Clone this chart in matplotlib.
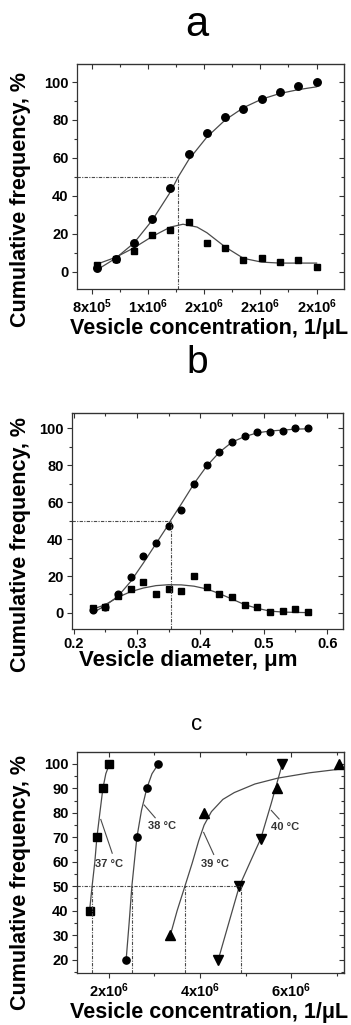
import matplotlib
matplotlib.use("Agg")
import matplotlib.pyplot as plt
from matplotlib.ticker import FixedLocator

plt.rcParams['font.family'] = ['Liberation Sans', 'DejaVu Sans']
plt.rcParams['mathtext.fontset'] = 'custom'
plt.rcParams['mathtext.rm'] = 'Liberation Sans:bold'
plt.rcParams['mathtext.default'] = 'rm'

LINE = '#4a4a4a'

# ---- panel a : concentration distribution ----
a_x = [0.84e6, 0.97e6, 1.10e6, 1.23e6, 1.36e6, 1.49e6, 1.62e6, 1.75e6,
       1.88e6, 2.01e6, 2.14e6, 2.27e6, 2.40e6]
a_cum = [2, 6.7, 15, 28, 44, 62, 73, 81.5, 86, 91, 94.5, 98, 100]
a_freq = [3.5, 6.5, 11, 19.5, 22, 26, 15, 12.5, 6, 7, 5, 6, 2.5]
a_cum_fit_x = [0.84e6, 0.97e6, 1.10e6, 1.23e6, 1.36e6, 1.416e6, 1.49e6, 1.62e6,
               1.75e6, 1.88e6, 2.01e6, 2.14e6, 2.27e6, 2.40e6]
a_cum_fit_y = [1, 7, 15, 27, 42, 50, 59, 71, 80, 86.5, 91, 94, 96, 97.5]
a_gau_fit_x = [0.84e6, 0.97e6, 1.10e6, 1.23e6, 1.36e6, 1.45e6, 1.55e6, 1.62e6,
               1.75e6, 1.88e6, 2.01e6, 2.14e6, 2.27e6, 2.40e6]
a_gau_fit_y = [4, 7.5, 12.5, 18.5, 23.5, 25, 23.5, 20.5, 13, 7, 5, 4.5, 4.5, 4.5]
a_half = 1.416e6
a_ticks = [0.8e6, 1.2e6, 1.6e6, 2.0e6, 2.4e6]
a_ticklabels = ['8x10$^5$', '1x10$^6$', '2x10$^6$', '2x10$^6$', '2x10$^6$']

# ---- panel b : diameter distribution ----
b_x = [0.23, 0.25, 0.27, 0.29, 0.31, 0.33, 0.35, 0.37, 0.39, 0.41, 0.43,
       0.45, 0.47, 0.49, 0.51, 0.53, 0.55, 0.57]
b_cum = [1.5, 3, 10, 19.5, 31, 38, 47, 56, 70, 80, 87, 92.5, 96, 98, 98,
         98.5, 100, 100]
b_freq = [2.5, 3.5, 9, 13, 16.5, 10.5, 13, 12, 20, 14, 10.5, 8.5, 4.5, 3,
          0.5, 1, 2, 0.5]
b_cum_fit_x = [0.23, 0.25, 0.27, 0.29, 0.31, 0.33, 0.35, 0.353, 0.37, 0.39,
               0.41, 0.43, 0.45, 0.47, 0.49, 0.51, 0.53, 0.55, 0.57]
b_cum_fit_y = [0, 4, 9, 17, 27, 37.5, 48, 50, 59, 70, 79.5, 87, 92.5, 95.5,
               97.5, 98.5, 99, 99.5, 99.7]
b_gau_fit_x = [0.23, 0.25, 0.27, 0.29, 0.31, 0.33, 0.35, 0.37, 0.39, 0.41,
               0.43, 0.45, 0.47, 0.49, 0.51, 0.53, 0.55, 0.57]
b_gau_fit_y = [2, 4.5, 8.5, 11.5, 13.5, 14.8, 15.3, 15.2, 14.5, 13, 10.5, 7.5,
               4.5, 2.5, 1, 0.5, 0.3, 0.2]
b_half = 0.353

# ---- panel c : temperature series ----
c37_x = [1.585e6, 1.745e6, 1.876e6, 2.02e6]
c37_y = [40, 70, 90, 100]
c37_fit_x = [1.585e6, 1.64e6, 1.70e6, 1.745e6, 1.81e6, 1.876e6, 1.94e6, 2.02e6]
c37_fit_y = [40, 50, 60, 70, 80, 90, 96, 100]
c38_x = [2.385e6, 2.62e6, 2.836e6, 3.09e6]
c38_y = [20, 70, 90, 100]
c38_fit_x = [2.385e6, 2.45e6, 2.51e6, 2.57e6, 2.62e6, 2.72e6, 2.836e6, 2.95e6, 3.09e6]
c38_fit_y = [20, 35, 50, 61, 70, 81, 90, 96, 100]
c39_x = [3.345e6, 4.09e6, 5.69e6, 7.04e6]
c39_y = [30, 80, 90, 100]
c39_fit_x = [3.36e6, 3.50e6, 3.67e6, 3.83e6, 3.97e6, 4.09e6, 4.25e6, 4.5e6,
             4.75e6, 5.2e6, 5.7e6, 6.4e6, 7.02e6]
c39_fit_y = [30.6, 40, 50, 59.5, 68.5, 75, 80.5, 85.5, 88.3, 91.8, 94.2, 96.4, 97.8]
c40_x = [4.4e6, 4.86e6, 5.33e6, 5.8e6]
c40_y = [20, 50, 69.5, 100]
c40_fit_x = [4.4e6, 4.63e6, 4.86e6, 5.1e6, 5.33e6, 5.56e6, 5.8e6]
c40_fit_y = [20, 35, 50, 60, 69.5, 84, 100]
c_halves = [1.636e6, 2.51e6, 3.67e6, 4.89e6]
c_labels = ['37 °C', '38 °C', '39 °C', '40 °C']
c_label_xy = [(2.0e6, 59), (3.16e6, 74.7), (4.33e6, 59), (5.85e6, 74.3)]
c_pointer = [((1.83e6, 77.3), (2.08e6, 63.5)), ((2.78e6, 83.2), (3.02e6, 78)),
             ((4.08e6, 72), (4.3e6, 63)), ((5.56e6, 81), (5.73e6, 77.5))]
c_ticks = [2e6, 4e6, 6e6]
c_ticklabels = ['2x10$^6$', '4x10$^6$', '6x10$^6$']

fig = plt.figure(figsize=(3.51, 10.25), dpi=100)

ax_a = fig.add_axes([0.2194, 0.7180, 0.7607, 0.2195])
ax_b = fig.add_axes([0.2051, 0.3863, 0.7721, 0.2107])
ax_c = fig.add_axes([0.2194, 0.0507, 0.7607, 0.2159])

TICK_FS = 10.5
XLABEL_FS = 15.5
YLABEL_FS = 15.5


def style(ax):
    for s in ax.spines.values():
        s.set_linewidth(0.9)
        s.set_color('#333333')
    ax.tick_params(which='both', direction='out', top=False, right=False,
                   width=0.8, color='#333333', labelsize=TICK_FS, pad=2.5)
    ax.tick_params(which='major', length=3.5)
    ax.tick_params(which='minor', length=2)
    for lab in ax.get_xticklabels() + ax.get_yticklabels():
        lab.set_fontweight('bold')
    # mirrored inward ticks on top and right
    sec_x = ax.secondary_xaxis('top')
    sec_x.tick_params(which='both', direction='in', labeltop=False, width=0.8,
                      color='#333333')
    sec_x.tick_params(which='major', length=3.5)
    sec_x.tick_params(which='minor', length=2)
    sec_x.xaxis.set_major_locator(FixedLocator(ax.get_xticks()))
    sec_x.xaxis.set_minor_locator(FixedLocator(ax.xaxis.get_minorticklocs()))
    sec_y = ax.secondary_yaxis('right')
    sec_y.tick_params(which='both', direction='in', labelright=False, width=0.8,
                      color='#333333')
    sec_y.tick_params(which='major', length=3.5)
    sec_y.tick_params(which='minor', length=2)
    sec_y.yaxis.set_major_locator(FixedLocator(ax.get_yticks()))
    sec_y.yaxis.set_minor_locator(FixedLocator(ax.yaxis.get_minorticklocs()))


dash = (0, (3, 1.2, 1, 1.2))

# panel a
ax_a.plot(a_cum_fit_x, a_cum_fit_y, color=LINE, lw=0.9)
ax_a.plot(a_gau_fit_x, a_gau_fit_y, color=LINE, lw=0.9)
ax_a.plot(a_x, a_cum, 'o', color='black', ms=5.4)
ax_a.plot(a_x, a_freq, 's', color='black', ms=5)
ax_a.set_xlim(0.696e6, 2.595e6)
ax_a.set_ylim(-9.2, 109.5)
ax_a.plot([0.696e6, a_half], [50, 50], color=LINE, lw=0.8, ls=dash)
ax_a.plot([a_half, a_half], [-9.2, 50], color=LINE, lw=0.8, ls=dash)
ax_a.set_xticks(a_ticks)
ax_a.set_xticklabels(a_ticklabels)
ax_a.xaxis.set_minor_locator(FixedLocator([1.0e6, 1.4e6, 1.8e6, 2.2e6]))
ax_a.set_yticks([0, 20, 40, 60, 80, 100])
ax_a.yaxis.set_minor_locator(FixedLocator([10, 30, 50, 70, 90]))
style(ax_a)
ax_a.set_xlabel('Vesicle concentration, 1/μL', fontsize=XLABEL_FS, fontweight='bold')
ax_a.set_ylabel('Cumulative frequency, %', fontsize=YLABEL_FS, fontweight='bold')
ax_a.xaxis.set_label_coords(0.494, -0.129)
ax_a.yaxis.set_label_coords(-0.172, 0.40)

# panel b
ax_b.plot(b_cum_fit_x, b_cum_fit_y, color=LINE, lw=0.9)
ax_b.plot(b_gau_fit_x, b_gau_fit_y, color=LINE, lw=0.9)
ax_b.plot(b_x, b_cum, 'o', color='black', ms=4.8)
ax_b.plot(b_x, b_freq, 's', color='black', ms=4.6)
ax_b.set_xlim(0.1975, 0.625)
ax_b.set_ylim(-8.7, 108.2)
ax_b.plot([0.1975, b_half], [50, 50], color=LINE, lw=0.8, ls=dash)
ax_b.plot([b_half, b_half], [-8.7, 50], color=LINE, lw=0.8, ls=dash)
ax_b.set_xticks([0.2, 0.3, 0.4, 0.5, 0.6])
ax_b.set_xticklabels(['0.2', '0.3', '0.4', '0.5', '0.6'])
ax_b.xaxis.set_minor_locator(FixedLocator([0.25, 0.35, 0.45, 0.55]))
ax_b.set_yticks([0, 20, 40, 60, 80, 100])
ax_b.yaxis.set_minor_locator(FixedLocator([10, 30, 50, 70, 90]))
style(ax_b)
ax_b.set_xlabel('Vesicle diameter, μm', fontsize=XLABEL_FS + 0.5, fontweight='bold')
ax_b.set_ylabel('Cumulative frequency, %', fontsize=YLABEL_FS, fontweight='bold')
ax_b.xaxis.set_label_coords(0.43, -0.097)
ax_b.yaxis.set_label_coords(-0.152, 0.39)

# panel c
for fx, fy in [(c37_fit_x, c37_fit_y), (c38_fit_x, c38_fit_y),
               (c39_fit_x, c39_fit_y), (c40_fit_x, c40_fit_y)]:
    ax_c.plot(fx, fy, color=LINE, lw=0.9)
ax_c.plot(c37_x, c37_y, 's', color='black', ms=5.2)
ax_c.plot(c38_x, c38_y, 'o', color='black', ms=5.2)
ax_c.plot(c39_x, c39_y, '^', color='black', ms=6.5)
ax_c.plot(c40_x, c40_y, 'v', color='black', ms=6.5)
ax_c.set_xlim(1.31e6, 7.15e6)
ax_c.set_ylim(14.5, 105)
ax_c.plot([1.31e6, max(c_halves)], [50, 50], color=LINE, lw=0.8, ls=dash)
for h in c_halves:
    ax_c.plot([h, h], [14.5, 50], color=LINE, lw=0.8, ls=dash)
for lab, (tx, ty), (p0, p1) in zip(c_labels, c_label_xy, c_pointer):
    ax_c.plot([p0[0], p1[0]], [p0[1], p1[1]], color=LINE, lw=0.8)
    ax_c.text(tx, ty, lab, fontsize=8, fontweight='bold', color='#333333',
              ha='center', va='center')
ax_c.set_xticks(c_ticks)
ax_c.set_xticklabels(c_ticklabels)
ax_c.xaxis.set_minor_locator(FixedLocator([1e6, 3e6, 5e6, 7e6]))
ax_c.set_yticks([20, 30, 40, 50, 60, 70, 80, 90, 100])
ax_c.yaxis.set_minor_locator(FixedLocator([15, 25, 35, 45, 55, 65, 75, 85, 95]))
style(ax_c)
ax_c.set_xlabel('Vesicle concentration, 1/μL', fontsize=XLABEL_FS, fontweight='bold')
ax_c.set_ylabel('Cumulative frequency, %', fontsize=YLABEL_FS, fontweight='bold')
ax_c.xaxis.set_label_coords(0.494, -0.131)
ax_c.yaxis.set_label_coords(-0.172, 0.41)

# panel letters
fig.text(197 / 351, 1 - 25 / 1025, 'a', fontsize=30, ha='center', va='center')
fig.text(197 / 351, 1 - 363 / 1025, 'b', fontsize=28, ha='center', va='center')
fig.text(197 / 351, 1 - 724 / 1025, 'c', fontsize=16, ha='center', va='center')

fig.savefig('out.png', dpi=100)
